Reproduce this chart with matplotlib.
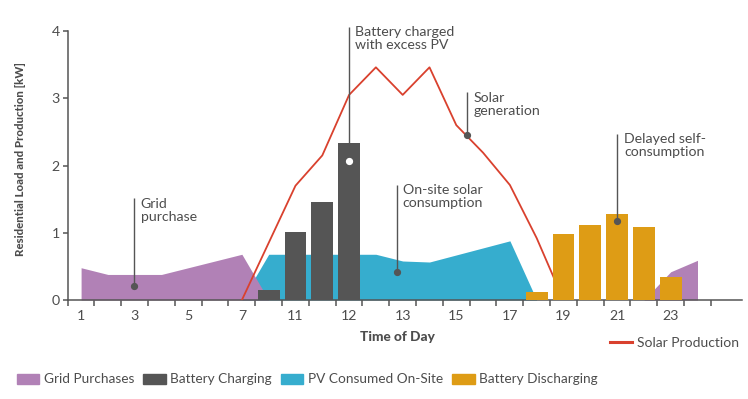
import numpy as np
import matplotlib
matplotlib.use("Agg")
import matplotlib.pyplot as plt
from matplotlib.patches import Patch
from matplotlib.lines import Line2D

plt.rcParams['font.family'] = ['Lato', 'DejaVu Sans']

# ---- data ----
hours = list(range(24))
tick_labels = ["1", "3", "5", "7", "11", "12", "13", "15", "17", "19", "21", "23"]
grid_purchases = [0.48, 0.38, 0.38, 0.38, 0.48, 0.58, 0.68, 0.0, np.nan, np.nan, np.nan, np.nan,
                  np.nan, np.nan, np.nan, np.nan, np.nan, np.nan, np.nan, np.nan, np.nan, 0.0, 0.42, 0.59]
pv_on_site = [np.nan, np.nan, np.nan, np.nan, np.nan, np.nan, 0.0, 0.68, 0.68, 0.68, 0.68, 0.68,
              0.58, 0.565, 0.67, 0.775, 0.88, 0.0, np.nan, np.nan, np.nan, np.nan, np.nan, np.nan]
battery_charging = [0, 0, 0, 0, 0, 0, 0, 0.15, 1.01, 1.46, 2.34, 0,
                    0, 0, 0, 0, 0, 0, 0, 0, 0, 0, 0, 0]
battery_discharging = [0, 0, 0, 0, 0, 0, 0, 0, 0, 0, 0, 0,
                       0, 0, 0, 0, 0, 0.12, 0.98, 1.11, 1.28, 1.09, 0.34, 0]
solar_production = [np.nan, np.nan, np.nan, np.nan, np.nan, np.nan, 0.0, 0.85, 1.70, 2.15, 3.05, 3.46,
                    3.05, 3.46, 2.60, 2.19, 1.71, 0.92, 0.0, np.nan, np.nan, np.nan, np.nan, np.nan]

# annotations: text, dot x, dot y, line top y, text x, white dot?
annotations = [
    ("Grid\npurchase", 1.985, 0.21, 1.51, 2.22, False),
    ("Battery charged\nwith excess PV", 10.01, 2.06, 4.06, 10.23, True),
    ("On-site solar\nconsumption", 11.80, 0.42, 1.71, 12.0, False),
    ("Solar\ngeneration", 14.41, 2.45, 3.09, 14.63, False),
    ("Delayed self-\nconsumption", 20.01, 1.18, 2.47, 20.26, False),
]

C_GRID = "#B181B6"
C_CHG = "#555555"
C_PV = "#36ADCE"
C_DIS = "#DE9C15"
C_SOLAR = "#D9412E"
C_TEXT = "#4D4D4D"
C_AXIS = "#555555"

fig = plt.figure(figsize=(7.48, 3.99), dpi=100)
ax = fig.add_axes([0.0905, 0.2481, 0.9011, 0.6742])

x = np.array(hours)
gp = np.array(grid_purchases, dtype=float)
pv = np.array(pv_on_site, dtype=float)
ax.fill_between(x, 0, pv, where=~np.isnan(pv), color=C_PV, linewidth=0, zorder=1)
ax.fill_between(x[:8], 0, gp[:8], color=C_GRID, linewidth=0, zorder=2)
ax.fill_between(x[21:], 0, gp[21:], color=C_GRID, linewidth=0, zorder=2)

bc = np.array(battery_charging)
bd = np.array(battery_discharging)
m = bc > 0
ax.bar(x[m], bc[m], width=0.82, color=C_CHG, zorder=3)
m = bd > 0
ax.bar(x[m], bd[m], width=0.82, color=C_DIS, zorder=4)
ax.plot(x, solar_production, color=C_SOLAR, lw=1.3, zorder=3.5)

for txt, bx, dy, ty, tx, white in annotations:
    ax.plot([bx, bx], [dy, ty], color=C_AXIS, lw=1.0, zorder=6, clip_on=False,
            solid_capstyle='butt')
    ax.plot([bx], [dy], marker='o', ms=4.2, color='white' if white else C_AXIS,
            mec='white' if white else C_AXIS, zorder=7, clip_on=False)
    ax.text(tx, ty + 0.01, txt, ha='left', va='top', fontsize=10.2, color=C_TEXT,
            linespacing=1.1, zorder=8)

ax.set_xlim(-0.5, 24.65)
ax.set_ylim(0, 4)
ax.set_xticks(np.arange(-0.5, 24.0, 1.0))
ax.set_xticklabels([])
ax.set_xticks(np.arange(0, 24, 2), minor=True)
ax.set_xticklabels(tick_labels, minor=True)
ax.tick_params(axis='x', which='major', length=4.5, width=1.1, color=C_AXIS, direction='out')
ax.tick_params(axis='x', which='minor', length=0, pad=7.5, labelsize=10.2, labelcolor=C_TEXT)
ax.set_yticks([0, 1, 2, 3, 4])
ax.tick_params(axis='y', length=3.5, width=1.1, color=C_AXIS, pad=2.2, labelsize=10.2,
               labelcolor=C_TEXT)
for s in ['top', 'right']:
    ax.spines[s].set_visible(False)
for s in ['left', 'bottom']:
    ax.spines[s].set_color(C_AXIS)
    ax.spines[s].set_linewidth(1.1)

fig.text(0.028, 0.6015, "Residential Load and Production [kW]", rotation=90, ha='center',
         va='center', fontsize=8.2, fontweight='black', color=C_TEXT)
fig.text(0.532, 0.156, "Time of Day", ha='center', va='center', fontsize=9.8,
         fontweight='black', color=C_TEXT)

handles = [Patch(color=C_GRID), Patch(color=C_CHG), Patch(color=C_PV), Patch(color=C_DIS)]
labels = ["Grid Purchases", "Battery Charging", "PV Consumed On-Site", "Battery Discharging"]
leg = fig.legend(handles, labels, loc='center left', bbox_to_anchor=(0.0225, 0.049), ncol=4,
                 frameon=False, fontsize=9.8, handlelength=1.65, handleheight=0.8,
                 handletextpad=0.35, columnspacing=0.65, borderaxespad=0, borderpad=0)
for t in leg.get_texts():
    t.set_color(C_TEXT)
leg2 = fig.legend([Line2D([0], [0], color=C_SOLAR, lw=2.2)], ["Solar Production"],
                  loc='center left', bbox_to_anchor=(0.8155, 0.141), frameon=False, fontsize=10,
                  handlelength=1.6, handletextpad=0.35, borderaxespad=0, borderpad=0)
for t in leg2.get_texts():
    t.set_color(C_TEXT)

fig.savefig("out.png", dpi=100)
